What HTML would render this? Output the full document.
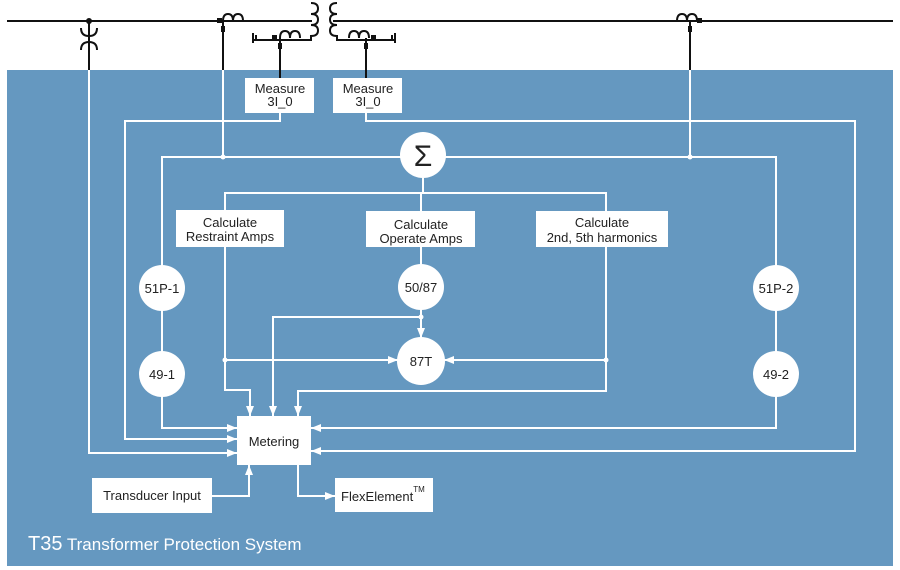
<!DOCTYPE html>
<html><head><style>
body{margin:0;background:#fff}
svg{display:block}
text{font-family:"Liberation Sans",sans-serif;font-size:13px;fill:#222}
</style></head><body>
<svg width="900" height="570" viewBox="0 0 900 570" xmlns="http://www.w3.org/2000/svg">
<defs>
<marker id="a" markerWidth="10" markerHeight="8" refX="10" refY="4" orient="auto" markerUnits="userSpaceOnUse"><path d="M0,0 L10,4 L0,8 z" fill="#fff"/></marker>
</defs>
<rect x="7" y="70" width="886" height="496" fill="#6598c0"/>
<g stroke="#111" stroke-width="2" fill="none">
<line x1="7" y1="21" x2="312" y2="21"/>
<line x1="333" y1="21" x2="893" y2="21"/>
<line x1="89" y1="21" x2="89" y2="70"/>
<path d="M81,28 q0,8 8,8 q8,0 8,-8"/>
<path d="M81,50 q0,-8 8,-8 q8,0 8,8"/>
<path d="M223,21 q0,-7 5,-7 q5,0 5,7 q0,-7 5,-7 q5,0 5,7"/>
<line x1="223" y1="21" x2="223" y2="70"/>
<path d="M311,3 q7,0 7,5.5 q0,5.5 -7,5.5 q7,0 7,5.5 q0,5.5 -7,5.5 q7,0 7,5.5 q0,5.5 -7,5.5 l0,4 l-58,0"/>
<path d="M337,3 q-7,0 -7,5.5 q0,5.5 7,5.5 q-7,0 -7,5.5 q0,5.5 7,5.5 q-7,0 -7,5.5 q0,5.5 7,5.5 l0,4 l58,0"/>
<line x1="253" y1="33" x2="253" y2="43"/><line x1="256" y1="35" x2="256" y2="41"/>
<line x1="395" y1="33" x2="395" y2="43"/><line x1="392" y1="35" x2="392" y2="41"/>
<path d="M280,38 q0,-7 5,-7 q5,0 5,7 q0,-7 5,-7 q5,0 5,7"/>
<line x1="280" y1="38" x2="280" y2="78"/>
<path d="M349,38 q0,-7 5,-7 q5,0 5,7 q0,-7 5,-7 q5,0 5,7"/>
<line x1="366" y1="38" x2="366" y2="78"/>
<path d="M677,21 q0,-7 5,-7 q5,0 5,7 q0,-7 5,-7 q5,0 5,7"/>
<line x1="690" y1="21" x2="690" y2="70"/>
</g>
<g fill="#111">
<circle cx="89" cy="21" r="3"/>
<rect x="217" y="18" width="5" height="5"/><rect x="221" y="26" width="4" height="6"/>
<rect x="272" y="35" width="5" height="5"/><rect x="278" y="43" width="4" height="6"/>
<rect x="371" y="35" width="5" height="5"/><rect x="364" y="43" width="4" height="6"/>
<rect x="697" y="18" width="5" height="5"/><rect x="688" y="26" width="4" height="6"/>
</g>
<g stroke="#fff" stroke-width="2" fill="none">
<path d="M89,70 V453 H237" marker-end="url(#a)"/>
<path d="M280,113 V121 H125 V439 H237" marker-end="url(#a)"/>
<path d="M366,113 V121 H855 V451 H311" marker-end="url(#a)"/>
<path d="M223,70 V157 H776 V428 H311" marker-end="url(#a)"/>
<path d="M690,70 V157"/>
<path d="M223,157 H162 V428 H237" marker-end="url(#a)"/>
<path d="M423,178 V193 H225 V390 H250 V416" marker-end="url(#a)"/>
<path d="M423,193 H606 V391 H298 V416" marker-end="url(#a)"/>
<path d="M421,193 V338" marker-end="url(#a)"/>
<path d="M225,360 H398" marker-end="url(#a)"/>
<path d="M606,360 H444" marker-end="url(#a)"/>
<path d="M421,317 H273 V416" marker-end="url(#a)"/>
<path d="M212,496 H249 V465" marker-end="url(#a)"/>
<path d="M298,465 V496 H335" marker-end="url(#a)"/>
</g>
<g fill="#fff">
<circle cx="223" cy="157" r="2.5"/><circle cx="690" cy="157" r="2.5"/>
<circle cx="225" cy="360" r="2.5"/><circle cx="606" cy="360" r="2.5"/><circle cx="421" cy="317" r="2.5"/>
<rect x="245" y="78" width="69" height="35"/>
<rect x="333" y="78" width="69" height="35"/>
<circle cx="423" cy="155" r="23"/>
<rect x="176" y="210" width="108" height="37"/>
<rect x="366" y="211" width="109" height="36"/>
<rect x="536" y="211" width="132" height="36"/>
<circle cx="162" cy="288" r="23"/><circle cx="162" cy="374" r="23"/>
<circle cx="776" cy="288" r="23"/><circle cx="776" cy="374" r="23"/>
<circle cx="421" cy="287" r="23"/><circle cx="421" cy="361" r="24"/>
<rect x="237" y="416" width="74" height="49"/>
<rect x="92" y="478" width="120" height="35"/>
<rect x="335" y="478" width="98" height="34"/>
</g>
<g text-anchor="middle">
<text x="280" y="93">Measure</text><text x="280" y="106">3I_0</text>
<text x="368" y="93">Measure</text><text x="368" y="106">3I_0</text>
<text x="423" y="166" style="font-size:30px">Σ</text>
<text x="230" y="227">Calculate</text><text x="230" y="241">Restraint Amps</text>
<text x="421" y="229">Calculate</text><text x="421" y="243">Operate Amps</text>
<text x="602" y="227">Calculate</text><text x="602" y="242">2nd, 5th harmonics</text>
<text x="162" y="293">51P-1</text><text x="162" y="379">49-1</text>
<text x="776" y="293">51P-2</text><text x="776" y="379">49-2</text>
<text x="421" y="292">50/87</text><text x="421" y="366">87T</text>
<text x="274" y="446">Metering</text>
<text x="152" y="500">Transducer Input</text>
</g>
<text x="341" y="501">FlexElement<tspan dy="-9" style="font-size:8px">TM</tspan></text>
<text x="28" y="550" style="fill:#fff;font-size:17px"><tspan style="font-size:20px">T35</tspan> Transformer Protection System</text>
</svg>
</body></html>
